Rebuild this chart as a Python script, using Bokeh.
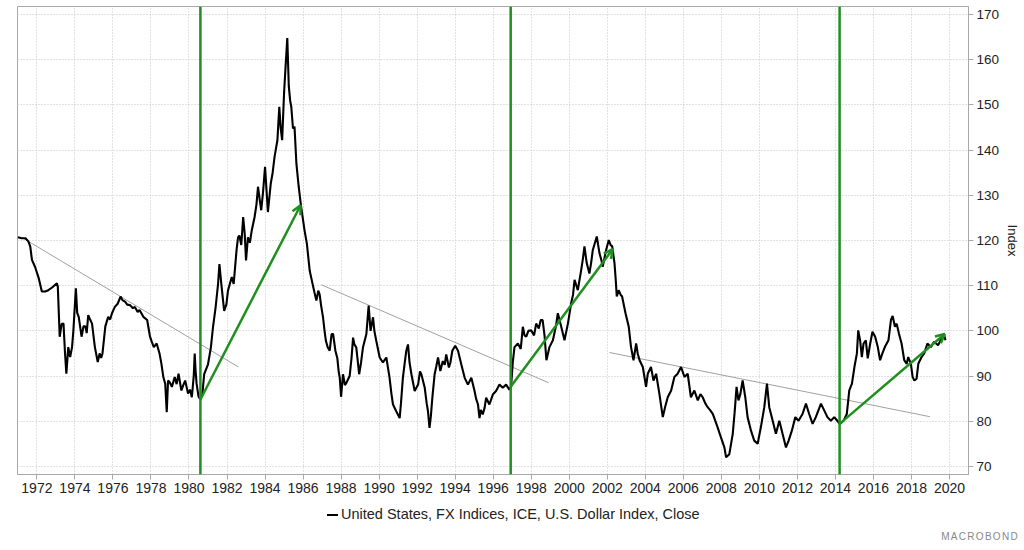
from bokeh.plotting import figure
from bokeh.layouts import column
from bokeh.models import Range1d, FixedTicker, Span, Arrow, OpenHead, Div
from bokeh.embed import file_html
from bokeh.resources import INLINE

# ---- data (decimal year, index level) ----
yrs_1970s = [1971.0, 1971.2, 1971.4, 1971.55, 1971.65, 1971.74, 1971.9, 1972.1, 1972.26, 1972.44,
             1972.6, 1972.8, 1973.05, 1973.1, 1973.17, 1973.2, 1973.3, 1973.4, 1973.48, 1973.55,
             1973.65, 1973.75, 1973.85, 1973.92, 1974.05, 1974.12, 1974.2, 1974.35, 1974.45, 1974.55,
             1974.62, 1974.7, 1974.8, 1974.9, 1975.05, 1975.2, 1975.3, 1975.38, 1975.45, 1975.6,
             1975.75, 1975.85, 1975.95, 1976.1, 1976.25, 1976.4, 1976.5, 1976.65, 1976.75, 1976.9,
             1977.05, 1977.15, 1977.3, 1977.4, 1977.6, 1977.8, 1977.95, 1978.05, 1978.15, 1978.3,
             1978.45, 1978.55, 1978.65, 1978.75, 1978.83, 1978.9, 1979.0, 1979.1, 1979.25, 1979.35,
             1979.45, 1979.6, 1979.7, 1979.8, 1979.95]
vals_1970s = [120.7, 120.5, 120.5, 119.8, 118.7, 115.7, 114.2, 111.6, 108.7, 108.7,
              109.0, 109.6, 110.5, 109.8, 102.0, 98.7, 101.5, 101.6, 95.0, 90.5,
              96.4, 94.2, 96.4, 100.1, 109.4, 104.0, 103.1, 98.7, 101.0, 101.0,
              99.5, 103.5, 102.5, 101.6, 96.4, 93.1, 95.0, 94.0, 95.0, 101.0,
              103.1, 102.5, 103.9, 105.3, 106.0, 107.6, 106.8, 106.4, 105.8, 105.7,
              105.0, 105.3, 104.2, 104.6, 103.1, 102.4, 98.7, 97.5, 96.4, 97.2,
              95.0, 92.7, 89.8, 88.3, 82.0, 89.0, 88.5, 87.6, 89.8, 88.2,
              90.5, 86.8, 88.0, 89.0, 86.1]

yrs_1980s = [1980.05, 1980.15, 1980.25, 1980.3, 1980.35, 1980.4, 1980.5, 1980.6, 1980.7, 1980.8,
             1981.0, 1981.15, 1981.26, 1981.4, 1981.53, 1981.6, 1981.7, 1981.85, 1981.97, 1982.05,
             1982.25, 1982.35, 1982.5, 1982.58, 1982.65, 1982.75, 1982.85, 1982.93, 1983.0, 1983.1,
             1983.2, 1983.3, 1983.45, 1983.55, 1983.63, 1983.72, 1983.8, 1983.9, 1984.0, 1984.08,
             1984.15, 1984.3, 1984.4, 1984.5, 1984.65, 1984.75, 1984.82, 1984.9, 1985.0, 1985.08,
             1985.17, 1985.25, 1985.32, 1985.38, 1985.47, 1985.55, 1985.65, 1985.77, 1985.9, 1986.0,
             1986.08, 1986.2, 1986.35, 1986.5, 1986.6, 1986.7, 1986.8, 1986.87, 1986.95, 1987.05,
             1987.13, 1987.2, 1987.3, 1987.4, 1987.5, 1987.58, 1987.7, 1987.8, 1987.87, 1987.93,
             1988.0, 1988.1, 1988.2, 1988.28, 1988.45, 1988.55, 1988.63, 1988.7, 1988.8, 1988.95,
             1989.05, 1989.15, 1989.33, 1989.45, 1989.55, 1989.68, 1989.75, 1989.85]
vals_1980s = [87.0, 85.3, 90.0, 95.0, 91.0, 88.3, 85.5, 84.8, 85.9, 90.4,
              92.6, 96.3, 100.7, 105.2, 110.4, 114.8, 110.4, 104.4, 105.9, 108.9,
              111.9, 110.4, 117.8, 120.7, 121.1, 119.0, 125.2, 121.5, 115.6, 120.7,
              119.5, 122.2, 125.2, 128.0, 131.9, 129.0, 126.7, 131.0, 136.3, 131.0,
              126.3, 132.6, 135.0, 138.5, 142.2, 149.6, 145.0, 142.2, 152.6, 158.5,
              164.8, 154.1, 151.0, 149.6, 144.8, 145.2, 137.0, 131.9, 127.4, 124.5,
              122.2, 119.3, 113.3, 110.4, 108.5, 106.7, 108.9, 108.1, 105.6, 103.0,
              100.0, 97.8, 96.3, 95.6, 99.3, 99.3, 95.6, 94.0, 91.1, 89.6,
              85.4, 90.4, 88.0, 88.5, 90.0, 94.0, 98.5, 97.0, 96.3, 90.4,
              93.0, 96.3, 99.3, 105.6, 100.0, 103.0, 100.0, 97.8]

yrs_1990s = [1990.03, 1990.2, 1990.38, 1990.55, 1990.65, 1990.73, 1990.9, 1991.08, 1991.15, 1991.25,
             1991.35, 1991.43, 1991.52, 1991.6, 1991.7, 1991.87, 1992.05, 1992.15, 1992.22, 1992.4,
             1992.5, 1992.57, 1992.65, 1992.72, 1992.8, 1992.92, 1993.0, 1993.1, 1993.22, 1993.35,
             1993.45, 1993.53, 1993.67, 1993.75, 1993.85, 1994.0, 1994.15, 1994.32, 1994.5, 1994.67,
             1994.85, 1995.02, 1995.1, 1995.2, 1995.28, 1995.35, 1995.45, 1995.55, 1995.63, 1995.8,
             1995.98, 1996.15, 1996.33, 1996.5, 1996.68, 1996.85, 1996.94, 1997.03, 1997.12, 1997.3,
             1997.45, 1997.56, 1997.65, 1997.74, 1997.85, 1998.0, 1998.15, 1998.26, 1998.4, 1998.5,
             1998.6, 1998.7, 1998.8, 1998.96, 1999.14, 1999.3, 1999.4, 1999.58, 1999.75, 1999.93]
vals_1990s = [94.1, 93.0, 94.1, 89.6, 86.0, 83.7, 82.2, 80.7, 84.0, 89.6,
              93.0, 95.6, 97.0, 93.0, 90.4, 86.7, 88.1, 91.0, 90.4, 87.4,
              84.0, 82.2, 78.5, 81.0, 85.2, 90.4, 92.0, 94.1, 91.1, 93.3,
              92.5, 94.8, 91.9, 93.0, 95.6, 96.7, 95.6, 92.6, 89.6, 88.1,
              89.6, 86.7, 85.0, 83.7, 80.7, 82.5, 81.5, 83.0, 85.2, 83.7,
              85.9, 86.7, 88.1, 87.4, 88.1, 87.0, 87.6, 93.0, 96.4, 97.2,
              96.0, 100.9, 99.0, 98.7, 100.0, 100.1, 99.0, 101.6, 100.5, 102.4,
              102.4, 99.0, 93.5, 96.4, 97.9, 101.0, 103.9, 100.9, 97.9, 101.6]

yrs_2000s = [2000.1, 2000.2, 2000.28, 2000.45, 2000.63, 2000.72, 2000.8, 2000.92, 2001.06, 2001.15,
             2001.24, 2001.45, 2001.52, 2001.59, 2001.7, 2001.76, 2001.94, 2002.08, 2002.18, 2002.26,
             2002.38, 2002.45, 2002.5, 2002.6, 2002.7, 2002.78, 2002.96, 2003.13, 2003.25, 2003.38,
             2003.52, 2003.6, 2003.7, 2003.87, 2004.04, 2004.13, 2004.3, 2004.43, 2004.57, 2004.74,
             2004.92, 2005.04, 2005.18, 2005.36, 2005.53, 2005.7, 2005.88, 2006.06, 2006.23, 2006.4,
             2006.58, 2006.76, 2006.9, 2007.02, 2007.15, 2007.28, 2007.4, 2007.55, 2007.8, 2007.98,
             2008.16, 2008.25, 2008.42, 2008.6, 2008.7, 2008.8, 2008.9, 2009.0, 2009.12, 2009.26,
             2009.38, 2009.56, 2009.73, 2009.91]
vals_2000s = [106.1, 108.0, 111.3, 109.0, 113.5, 116.0, 118.7, 115.0, 112.7, 115.0,
              117.9, 120.9, 119.0, 117.2, 115.5, 114.2, 117.9, 120.1, 119.0, 118.7,
              115.0, 111.0, 107.6, 109.0, 108.0, 107.6, 103.9, 100.9, 96.4, 93.5,
              97.2, 95.0, 93.5, 92.0, 87.6, 90.5, 92.0, 89.0, 90.5, 86.1,
              80.9, 83.1, 85.3, 86.8, 89.8, 90.5, 92.0, 89.8, 90.5, 85.3,
              86.8, 84.6, 86.0, 85.3, 84.0, 83.1, 82.5, 81.6, 78.7, 76.4,
              74.2, 72.0, 72.7, 77.2, 82.0, 87.6, 84.6, 86.0, 89.0, 85.3,
              80.9, 77.9, 75.7, 75.0]

yrs_2010s = [2010.08, 2010.26, 2010.4, 2010.52, 2010.7, 2010.87, 2011.05, 2011.22, 2011.4, 2011.54,
             2011.71, 2011.89, 2012.06, 2012.27, 2012.45, 2012.62, 2012.8, 2012.97, 2013.24, 2013.41,
             2013.58, 2013.76, 2013.94, 2014.1, 2014.23, 2014.43, 2014.6, 2014.73, 2014.87, 2015.0,
             2015.13, 2015.2, 2015.3, 2015.39, 2015.48, 2015.6, 2015.7, 2015.83, 2015.95, 2016.09,
             2016.23, 2016.35, 2016.47, 2016.6, 2016.79, 2016.92, 2017.01, 2017.13, 2017.22, 2017.34,
             2017.48, 2017.62, 2017.75, 2017.83, 2017.97, 2018.06, 2018.15, 2018.27, 2018.36, 2018.53,
             2018.67, 2018.84, 2019.02, 2019.19, 2019.4, 2019.58, 2019.72, 2019.79]
vals_2010s = [78.7, 83.1, 88.3, 83.1, 80.1, 77.2, 80.1, 77.2, 74.2, 75.7,
              77.9, 80.9, 80.1, 81.6, 83.9, 81.6, 79.4, 80.9, 83.9, 82.4,
              80.9, 80.1, 80.9, 80.1, 79.4, 80.1, 81.6, 86.8, 88.3, 92.0,
              95.0, 100.1, 97.9, 94.2, 97.2, 97.9, 93.9, 97.2, 99.8, 98.7,
              96.4, 93.5, 95.0, 96.4, 97.9, 102.4, 103.3, 100.9, 101.6, 99.4,
              97.2, 93.5, 92.7, 94.2, 92.7, 89.8, 89.0, 89.4, 92.7, 94.2,
              95.0, 97.2, 96.4, 97.6, 96.8, 98.3, 99.0, 97.9]

# highlighted turning points (vertical green lines)
turn_years = [1980.6, 1996.92, 2014.22]

# green trend arrows: start/end (year, level)
arrow_x0 = [1980.6, 1996.92, 2014.22]
arrow_y0 = [84.8, 87.6, 79.4]
arrow_x1 = [1985.87, 2002.29, 2019.75]
arrow_y1 = [127.8, 118.1, 99.3]

# thin grey down-trend lines
trend_x0 = [1971.2, 1986.96, 2002.12]
trend_y0 = [120.7, 110.2, 95.2]
trend_x1 = [1982.6, 1998.92, 2018.97]
trend_y1 = [92.0, 88.5, 81.0]

x_ticks = list(range(1972, 2021, 2))
y_ticks = list(range(70, 171, 10))

series_name = "United States, FX Indices, ICE, U.S. Dollar Index, Close"
source_name = "MACROBOND"

years = yrs_1970s + yrs_1980s + yrs_1990s + yrs_2000s + yrs_2010s
vals = vals_1970s + vals_1980s + vals_1990s + vals_2000s + vals_2010s

FONT = "Liberation Sans"
GREEN = "#1f8f1f"

p = figure(width=1024, height=500,
           x_range=Range1d(1970.98, 2021.0), y_range=Range1d(68.2, 171.8),
           y_axis_location="right", output_backend="svg", toolbar_location=None,
           min_border_left=17, min_border_right=56, min_border_top=6, min_border_bottom=26)
p.background_fill_color = "white"
p.border_fill_color = "white"
p.outline_line_color = "#a8a8a8"
p.outline_line_width = 1

# grid
for g in (p.xgrid, p.ygrid):
    g.grid_line_color = "#c4c4c4"
    g.grid_line_dash = "1 2"
    g.grid_line_width = 1
p.xaxis.ticker = FixedTicker(ticks=x_ticks)
p.yaxis.ticker = FixedTicker(ticks=y_ticks)
p.xgrid.ticker = FixedTicker(ticks=x_ticks)
p.ygrid.ticker = FixedTicker(ticks=y_ticks)

for ax in (p.xaxis, p.yaxis):
    ax.axis_line_color = "#a8a8a8"
    ax.major_tick_line_color = "#a8a8a8"
    ax.major_tick_in = 0
    ax.major_tick_out = 5
    ax.minor_tick_line_color = None
    ax.major_label_text_font = FONT
    ax.major_label_text_color = "#222222"
    ax.major_label_standoff = 3
p.xaxis.major_label_text_font_size = "14px"
p.yaxis.major_label_text_font_size = "13.5px"
p.yaxis.axis_label = "Index"
p.yaxis.axis_label_text_font = FONT
p.yaxis.axis_label_text_font_size = "13px"
p.yaxis.axis_label_text_font_style = "normal"
p.yaxis.axis_label_text_color = "#222222"
p.yaxis.axis_label_standoff = 3

# grey trend lines
p.segment(x0=trend_x0, y0=trend_y0, x1=trend_x1, y1=trend_y1, line_color="#a0a0a0", line_width=1)

# series
p.line(years, vals, line_color="black", line_width=2.1)

# vertical turning point lines
for t in turn_years:
    p.add_layout(Span(location=t, dimension="height", line_color=GREEN, line_width=2.5))

# arrows
for i in range(len(arrow_x0)):
    p.add_layout(Arrow(end=OpenHead(size=9, line_color=GREEN, line_width=2.5),
                       x_start=arrow_x0[i], y_start=arrow_y0[i],
                       x_end=arrow_x1[i], y_end=arrow_y1[i],
                       line_color=GREEN, line_width=2.5))

# ---- footer: legend entry and source mark ----
footer_html = (
    "<div style=\"position:relative;width:1024px;height:50px;"
    "font-family:'Liberation Sans',Arial,sans-serif;\">"
    "<span style=\"position:absolute;left:327px;top:14px;width:11px;height:0;"
    "border-top:2px solid #000;\"></span>"
    "<span style=\"position:absolute;left:341px;top:6px;font-size:14.5px;line-height:17px;"
    "color:#222;white-space:nowrap;\">" + series_name + "</span>"
    "<span style=\"position:absolute;right:5px;top:31px;font-size:10px;line-height:12px;"
    "letter-spacing:1.3px;color:#888;white-space:nowrap;\">" + source_name + "</span>"
    "</div>"
)
footer = Div(text=footer_html, width=1024, height=50, margin=0)

layout = column(p, footer, spacing=0)
open("out.html", "w").write(file_html(layout, INLINE))
